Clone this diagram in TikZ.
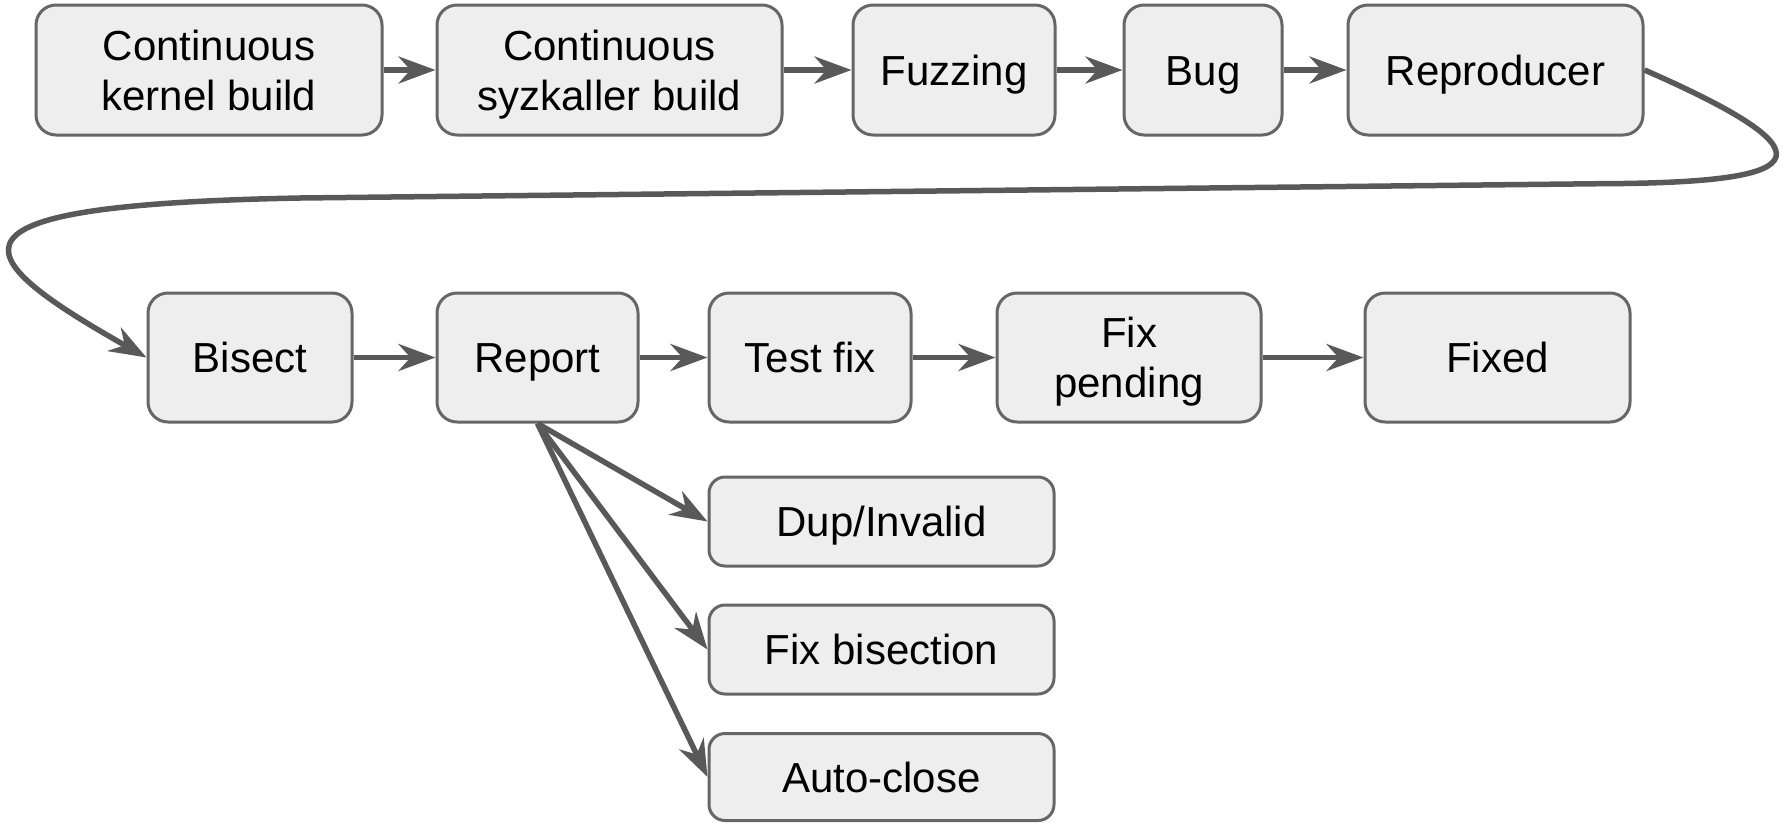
\documentclass[tikz,border=0pt]{standalone}
\usepackage{fontspec}
\setmainfont{Liberation Sans}
\usetikzlibrary{arrows.meta}
\definecolor{boxfill}{HTML}{EEEEEE}
\definecolor{boxline}{HTML}{666666}
\definecolor{arrowc}{HTML}{595959}
\newcommand{\lst}{\rule[-10pt]{0pt}{50pt}}
\tikzset{
  box/.style={draw=boxline, fill=boxfill, line width=3pt, rounded corners=20pt,
    inner sep=0pt, align=center, font=\fontsize{42}{50}\selectfont},
  flow/.style={draw=arrowc, line width=5.5pt,
    -{Stealth[length=37pt,width=27pt,inset=12pt]}}
}
\begin{document}
\begin{tikzpicture}[x=1pt,y=-1pt]
\useasboundingbox (0,0) rectangle (1790,822);
% row 1
\node[box, minimum width=346pt, minimum height=130pt] (ckb) at (209,70) {\lst Continuous\\\lst kernel build};
\node[box, minimum width=345pt, minimum height=130pt] (csb) at (609.5,70) {\lst Continuous\\\lst syzkaller build};
\node[box, minimum width=202pt, minimum height=130pt] (fuzz) at (954,70) {\lst Fuzzing};
\node[box, minimum width=158pt, minimum height=130pt] (bug) at (1203,70) {\lst Bug};
\node[box, minimum width=295pt, minimum height=130pt] (repro) at (1495.5,70) {\lst Reproducer};
% row 2
\node[box, minimum width=204pt, minimum height=129pt] (bisect) at (250,357.5) {\lst Bisect};
\node[box, minimum width=201pt, minimum height=129pt] (report) at (537.5,357.5) {\lst Report};
\node[box, minimum width=202pt, minimum height=129pt] (testfix) at (810,357.5) {\lst Test fix};
\node[box, minimum width=264pt, minimum height=129pt] (fixpend) at (1129,357.5) {\lst Fix\\\lst pending};
\node[box, minimum width=265pt, minimum height=129pt] (fixed) at (1497.5,357.5) {\lst Fixed};
% row 3
\node[box, minimum width=345pt, minimum height=89pt, rounded corners=16pt] (dup) at (881.5,521.5) {\lst Dup/Invalid};
\node[box, minimum width=345pt, minimum height=89pt, rounded corners=16pt] (fixbis) at (881.5,649.5) {\lst Fix bisection};
\node[box, minimum width=345pt, minimum height=87pt, rounded corners=16pt] (autoc) at (881.5,777) {\lst Auto-close};
% connectors
\draw[flow] (ckb) -- (csb);
\draw[flow] (csb) -- (fuzz);
\draw[flow] (fuzz) -- (bug);
\draw[flow] (bug) -- (repro);
\coordinate (wa) at (1600,183.7);
\coordinate (wb) at (300,198);
\draw[flow] (repro.east) .. controls (1850,160) and (1800,183) .. (wa)
  -- (wb) .. controls (-70,205) and (-40,252) .. (bisect.west);
\draw[flow] (bisect) -- (report);
\draw[flow] (report) -- (testfix);
\draw[flow] (testfix) -- (fixpend);
\draw[flow] (fixpend) -- (fixed);
\draw[flow] (report.south) -- (dup.west);
\draw[flow] (report.south) -- (fixbis.west);
\draw[flow] (report.south) -- (autoc.west);
\end{tikzpicture}
\end{document}
